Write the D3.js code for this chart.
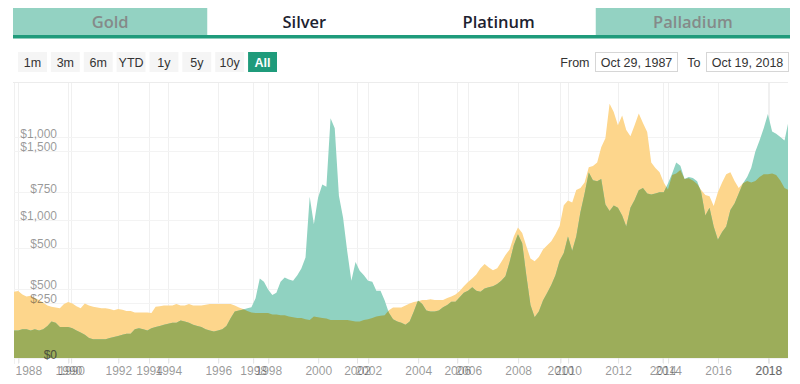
<!DOCTYPE html>
<html>
<head>
<meta charset="utf-8">
<script src="https://cdn.jsdelivr.net/npm/d3@7"></script>
<style>
  body { margin: 0; background: #fff; }
  svg { display: block; font-family: "Liberation Sans", Arial, sans-serif; }
</style>
</head>
<body>
<div id="chart"></div>
<script>
// ---- data ----
var tabs = ["Gold", "Silver", "Platinum", "Palladium"];
var activeTabs = ["Gold", "Palladium"];
var rangeButtons = ["1m", "3m", "6m", "YTD", "1y", "5y", "10y", "All"];
var activeRange = "All";
var fromText = "Oct 29, 1987";
var toText = "Oct 19, 2018";

var startDate = new Date(1987, 9, 29);
var endDate = new Date(2018, 9, 19);
var stepMonths = 2; // one reading every two months

// gold, USD/oz (left axis set: $0 ... $1,500)
var gold = [
  480, 485, 460, 445, 450, 435, 420, 400, 380, 370, 365, 360, 390, 405, 395, 375,
  360, 395, 380, 370, 365, 360, 360, 355, 345, 355, 350, 340, 340, 330, 330, 330,
  330, 325, 370, 375, 380, 380, 380, 390, 380, 380, 390, 380, 380, 380, 385, 390,
  390, 390, 390, 390, 390, 380, 365, 355, 340, 330, 325, 325, 325, 325, 315, 315,
  310, 310, 300, 295, 290, 290, 280, 275, 300, 295, 290, 285, 275, 275, 275, 275,
  275, 270, 265, 265, 275, 280, 290, 300, 305, 310, 345, 365, 365, 365, 380, 395,
  405, 410, 420, 420, 425, 420, 420, 420, 435, 445, 460, 485, 520, 550, 575, 605,
  650, 680, 655, 635, 650, 695, 745, 785, 880, 945, 905, 810, 720, 700, 730, 785,
  815, 845, 895, 955, 1105, 1140, 1125, 1215, 1230, 1270, 1380, 1390, 1415, 1525, 1590, 1840,
  1780, 1685, 1755, 1650, 1605, 1685, 1770, 1700, 1635, 1415, 1375, 1345, 1270, 1220, 1325, 1335,
  1360, 1295, 1300, 1285, 1260, 1215, 1180, 1170, 1100, 1200, 1270, 1330, 1345, 1280, 1230, 1265,
  1280, 1270, 1280, 1310, 1330, 1330, 1335, 1325, 1285, 1230, 1215
];

// palladium, USD/oz (second axis set: $0 ... $1,000)
var palladium = [
  125, 125, 130, 130, 125, 130, 125, 130, 145, 165, 160, 140, 140, 140, 135, 125,
  115, 105, 90, 85, 85, 85, 85, 90, 95, 100, 105, 110, 110, 130, 135, 130,
  125, 135, 140, 145, 150, 155, 160, 160, 170, 165, 160, 150, 145, 140, 130, 125,
  120, 125, 130, 145, 180, 210, 215, 220, 225, 230, 270, 360, 345, 310, 285, 295,
  345, 365, 355, 350, 375, 405, 455, 730, 605, 725, 785, 775, 1085, 1040, 735, 635,
  480, 350, 435, 395, 375, 350, 345, 305, 305, 260, 205, 175, 165, 160, 150, 165,
  210, 260, 245, 215, 210, 210, 215, 230, 240, 255, 255, 275, 295, 305, 320, 305,
  300, 315, 320, 325, 335, 350, 370, 435, 510, 560, 520, 375, 240, 185, 210, 260,
  295, 330, 375, 440, 475, 550, 485, 550, 660, 745, 840, 805, 800, 810, 695, 665,
  690, 680, 645, 595, 680, 715, 760, 770, 745, 740, 745, 750, 750, 790, 835, 885,
  870, 810, 820, 815, 800, 750, 645, 680, 595, 535, 570, 595, 670, 700, 745, 790,
  820, 860, 935, 985, 1040, 1105, 1025, 1015, 1000, 985, 1075
];

var goldTicks = [0, 500, 1000, 1500];
var palladiumTicks = [0, 250, 500, 750, 1000];
var goldAxisMax = 1990;
var palladiumAxisMax = 1245;

var yearTicks = [1988, 1990, 1992, 1994, 1996, 1998, 2000, 2002, 2004, 2006, 2008, 2010, 2012, 2014, 2016, 2018];
// the palladium series runs on its own (ordinal) time axis; its labels land at these dates of the gold axis
var palladiumYearLabels = ["1990", "1994", "1998", "2002", "2006", "2010", "2014", "2018"];
var palladiumYearAt = ["1990-02-10", "1993-03-25", "1997-05-25", "2001-07-20", "2005-07-25", "2009-09-10", "2013-10-12", "2018-01-08"];

// ---- colours ----
var cGold = "#fdd68c";
var cPalladium = "#90d2c1";
var cBoth = "#9cad5a";
var cAccent = "#1f9b7b";
var cTab = "#93d2c2";

var W = 800, H = 384;
var plot = { left: 14, right: 788, top: 83, bottom: 358 };

var svg = d3.select("#chart").append("svg")
    .attr("width", W)
    .attr("height", H);

// ---- tabs ----
var tabX = d3.scaleBand().domain(tabs).range([13, 790]);
var tabG = svg.append("g");
tabG.selectAll("rect.tab")
    .data(tabs.filter(function (t) { return activeTabs.indexOf(t) >= 0; }))
    .enter().append("rect")
    .attr("x", function (d) { return tabX(d); })
    .attr("y", 8)
    .attr("width", tabX.bandwidth())
    .attr("height", 27)
    .attr("fill", cTab);
tabG.append("rect")
    .attr("x", 13).attr("y", 35)
    .attr("width", 777).attr("height", 3.5)
    .attr("fill", cAccent);
tabG.selectAll("text.tab")
    .data(tabs)
    .enter().append("text")
    .attr("x", function (d) { return tabX(d) + tabX.bandwidth() / 2; })
    .attr("y", 28)
    .attr("text-anchor", "middle")
    .attr("font-family", "'Open Sans', sans-serif")
    .attr("font-weight", 600)
    .attr("font-size", "16.5px")
    .attr("fill", function (d) { return activeTabs.indexOf(d) >= 0 ? "#858a89" : "#1d2230"; })
    .text(function (d) { return d; });

// ---- range buttons ----
var btnX = d3.scaleBand().domain(rangeButtons).range([18, 277]).paddingInner(0.12);
var btnG = svg.append("g");
var btn = btnG.selectAll("g").data(rangeButtons).enter().append("g");
btn.append("rect")
    .attr("x", function (d) { return btnX(d); })
    .attr("y", 52)
    .attr("width", btnX.bandwidth())
    .attr("height", 20)
    .attr("fill", function (d) { return d === activeRange ? cAccent : "#f5f5f5"; });
btn.append("text")
    .attr("x", function (d) { return btnX(d) + btnX.bandwidth() / 2; })
    .attr("y", 66.5)
    .attr("text-anchor", "middle")
    .attr("font-size", "12.5px")
    .attr("font-weight", function (d) { return d === activeRange ? "bold" : "normal"; })
    .attr("fill", function (d) { return d === activeRange ? "#fff" : "#333"; })
    .text(function (d) { return d; });

// ---- date inputs ----
var inputs = [
    { label: "From", value: fromText, x: 595.5 },
    { label: "To", value: toText, x: 706.5 }
];
var inG = svg.append("g").selectAll("g").data(inputs).enter().append("g");
inG.append("text")
    .attr("x", function (d) { return d.x - 6; })
    .attr("y", 66.5)
    .attr("text-anchor", "end")
    .attr("font-size", "12.5px")
    .attr("fill", "#333")
    .text(function (d) { return d.label; });
inG.append("rect")
    .attr("x", function (d) { return d.x; })
    .attr("y", 52.5)
    .attr("width", 82)
    .attr("height", 19)
    .attr("fill", "#fff")
    .attr("stroke", "#d6d6d6");
inG.append("text")
    .attr("x", function (d) { return d.x + 41; })
    .attr("y", 66.5)
    .attr("text-anchor", "middle")
    .attr("font-size", "12.5px")
    .attr("fill", "#333")
    .text(function (d) { return d.value; });

// ---- scales ----
var x = d3.scaleTime().domain([startDate, endDate]).range([plot.left, plot.right]);
var yGold = d3.scaleLinear().domain([0, goldAxisMax]).range([plot.bottom, plot.top]);
var yPd = d3.scaleLinear().domain([0, palladiumAxisMax]).range([plot.bottom, plot.top]);

var dates = gold.map(function (d, i) { return d3.timeMonth.offset(startDate, i * stepMonths); });
var rows = dates.map(function (d, i) { return { date: d, gold: gold[i], pd: palladium[i] }; });
var parseDay = d3.timeParse("%Y-%m-%d");
var pdAxisDates = palladiumYearAt.map(parseDay);
var yearDates = yearTicks.map(function (y) { return new Date(y, 0, 1); });

// ---- grid ----
var grid = svg.append("g");
grid.append("line")
    .attr("x1", plot.left - 1).attr("x2", plot.right)
    .attr("y1", plot.top - 0.5).attr("y2", plot.top - 0.5)
    .attr("stroke", "#ececec");
grid.selectAll("line.v")
    .data([startDate].concat(yearDates, pdAxisDates))
    .enter().append("line")
    .attr("x1", function (d) { return Math.round(x(d)) + 0.5; })
    .attr("x2", function (d) { return Math.round(x(d)) + 0.5; })
    .attr("y1", plot.top).attr("y2", plot.bottom + 6)
    .attr("stroke", "#f0f0f0");
grid.selectAll("line.hg")
    .data(goldTicks.map(yGold).concat(palladiumTicks.map(yPd)))
    .enter().append("line")
    .attr("x1", plot.left).attr("x2", plot.right)
    .attr("y1", function (d) { return Math.round(d) + 0.5; })
    .attr("y2", function (d) { return Math.round(d) + 0.5; })
    .attr("stroke", "#f3f3f3");

// ---- areas ----
svg.append("clipPath").attr("id", "plotClip")
    .append("rect")
    .attr("x", plot.left).attr("y", plot.top)
    .attr("width", plot.right - plot.left).attr("height", plot.bottom - plot.top);

var goldArea = d3.area()
    .x(function (d) { return x(d.date); })
    .y0(plot.bottom)
    .y1(function (d) { return yGold(d.gold); });
var pdArea = d3.area()
    .x(function (d) { return x(d.date); })
    .y0(plot.bottom)
    .y1(function (d) { return yPd(d.pd); });

svg.append("clipPath").attr("id", "pdClip")
    .append("path").attr("d", pdArea(rows));

var areas = svg.append("g").attr("clip-path", "url(#plotClip)");
areas.append("path").attr("d", goldArea(rows)).attr("fill", cGold);
areas.append("path").attr("d", pdArea(rows)).attr("fill", cPalladium);
// where both series cover the same ground the colours mix into olive
areas.append("g").attr("clip-path", "url(#pdClip)")
    .append("path").attr("d", goldArea(rows)).attr("fill", cBoth);

// ---- axes ----
function styleAxis(g) {
    g.select(".domain").remove();
    g.selectAll("text")
        .attr("font-family", "'Liberation Sans', Arial, sans-serif")
        .attr("font-size", "12px")
        .attr("fill", "#333")
        .attr("fill-opacity", 0.5);
}

[[yGold, goldTicks], [yPd, palladiumTicks]].forEach(function (a) {
    svg.append("g")
        .attr("transform", "translate(57,0)")
        .call(d3.axisLeft(a[0]).tickValues(a[1]).tickSize(0).tickPadding(0).tickFormat(d3.format("$,")))
        .call(styleAxis)
        .selectAll("text").attr("dy", "0");
});

function bottomAxis(axis) {
    var g = svg.append("g")
        .attr("transform", "translate(0," + plot.bottom + ")")
        .call(axis)
        .call(styleAxis);
    g.selectAll("line").attr("stroke", "#e4e4e4");
    g.selectAll("text").attr("y", 16.5).attr("dy", "0");
    // keep edge labels inside the plot, like the original
    g.selectAll(".tick").each(function (d) {
        var t = d3.select(this).select("text");
        var w = t.node().getComputedTextLength();
        var cx = x(d);
        if (cx - w / 2 < plot.left + 1) t.attr("x", plot.left + 1 + w / 2 - cx);
    });
}
bottomAxis(d3.axisBottom(x).tickValues(yearDates).tickSize(5).tickFormat(d3.timeFormat("%Y")));
bottomAxis(d3.axisBottom(x).tickValues(pdAxisDates).tickSize(5)
    .tickFormat(function (d, i) { return palladiumYearLabels[i]; }));
</script>
</body>
</html>
